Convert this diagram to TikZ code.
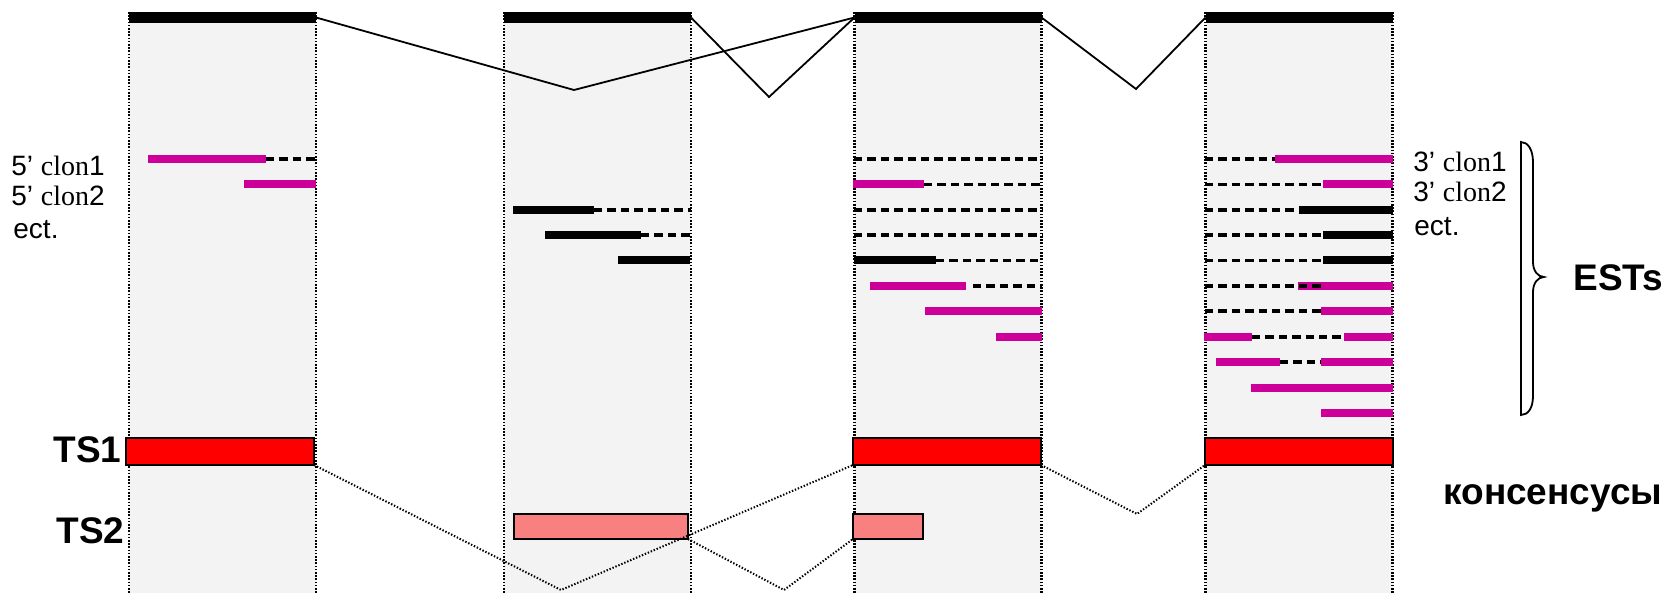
\documentclass[tikz,border=0pt]{standalone}
\usepackage{fontspec}
\setmainfont{Liberation Sans}
\newfontfamily\timesfont{Liberation Serif}
\usetikzlibrary{positioning}
\definecolor{colgray}{HTML}{F3F3F3}
\definecolor{estmag}{HTML}{CC0099}
\definecolor{tsred}{HTML}{FF0000}
\definecolor{tspink}{HTML}{F88080}

\tikzset{
  column/.style={rectangle, fill=colgray, inner sep=0pt, outer sep=0pt, minimum width=93.5pt, minimum height=293pt},
  edge/.style={line width=1.1pt, dash pattern=on 0.8pt off 0.8pt},
  exon/.style={rectangle, fill=black, inner sep=0pt, outer sep=0pt, minimum width=93.5pt, minimum height=5.5pt},
  intron/.style={line width=0.9pt},
  splice/.style={line width=1pt, dash pattern=on 0.7pt off 0.9pt},
  est/.style={line width=4pt, draw=estmag},
  estblk/.style={line width=4pt, draw=black},
  gap/.style={line width=1.6pt, dash pattern=on 4.2pt off 2.5pt},
  tsbox/.style={rectangle, draw, line width=0.8pt, inner sep=0pt, outer sep=0pt, minimum height=13.5pt},
  lbl/.style={inner sep=0pt, anchor=base west, font=\fontsize{14}{16}\selectfont},
  biglbl/.style={inner sep=0pt, anchor=base west, font=\fontsize{18.5}{22}\selectfont\bfseries}
}

\begin{document}
\begin{tikzpicture}[x=0.5pt, y=-0.5pt]
    \useasboundingbox (0,0) rectangle (1678,593);

    % exon columns
    \node[column] (col1) at (222.5,305) {};
    \node[column] (col2) at (597.5,305) {};
    \node[column] (col3) at (948,305) {};
    \node[column] (col4) at (1299,305) {};
    \draw[edge] (col1.north west) -- (col1.south west) (col1.north east) -- (col1.south east);
    \draw[edge] (col2.north west) -- (col2.south west) (col2.north east) -- (col2.south east);
    \draw[edge] (col3.north west) -- (col3.south west) (col3.north east) -- (col3.south east);
    \draw[edge] (col4.north west) -- (col4.south west) (col4.north east) -- (col4.south east);

    % genomic exons and introns
    \node[exon] (ex1) at (222.5,17.5) {};
    \node[exon] (ex2) at (597.5,17.5) {};
    \node[exon] (ex3) at (948,17.5) {};
    \node[exon] (ex4) at (1299,17.5) {};
    \coordinate (v1) at (574,90);
    \coordinate (v2) at (769,97);
    \coordinate (v3) at (1136,89);
    \draw[intron] (ex1.east) -- (v1) -- (ex3.west);
    \draw[intron] (ex2.east) -- (v2) -- (ex3.west);
    \draw[intron] (ex3.east) -- (v3) -- (ex4.west);

    % ESTs, exon 1
    \draw[est] (148,159) -- (266,159);
    \draw[gap] (266,159) -- (316,159);
    \draw[est] (244,184.5) -- (316,184.5);

    % ESTs, exon 2
    \draw[estblk] (513,210) -- (594,210);
    \draw[gap] (594,210) -- (691,210);
    \draw[estblk] (545,235) -- (641,235);
    \draw[gap] (641,235) -- (691,235);
    \draw[estblk] (618,260.5) -- (690,260.5);

    % ESTs, exon 3
    \draw[gap] (854,159) -- (1042,159);
    \draw[est] (853,184.5) -- (924,184.5);
    \draw[gap] (924,184.5) -- (1042,184.5);
    \draw[gap] (854,210) -- (1042,210);
    \draw[gap] (854,235) -- (1042,235);
    \draw[estblk] (854,260.5) -- (936,260.5);
    \draw[gap] (936,260.5) -- (1042,260.5);
    \draw[est] (870,286) -- (966,286);
    \draw[gap] (973,286) -- (1042,286);
    \draw[est] (925,311) -- (1042,311);
    \draw[est] (996,337) -- (1042,337);

    % ESTs, exon 4
    \draw[gap] (1205,159) -- (1275,159);
    \draw[est] (1275,159) -- (1393,159);
    \draw[gap] (1205,184.5) -- (1323,184.5);
    \draw[est] (1323,184.5) -- (1393,184.5);
    \draw[gap] (1205,210) -- (1299,210);
    \draw[estblk] (1299,210) -- (1393,210);
    \draw[gap] (1205,235) -- (1323,235);
    \draw[estblk] (1323,235) -- (1393,235);
    \draw[gap] (1205,260.5) -- (1323,260.5);
    \draw[estblk] (1323,260.5) -- (1393,260.5);
    \draw[est] (1298,286) -- (1393,286);
    \draw[gap] (1205,286) -- (1321,286);
    \draw[gap] (1205,311) -- (1321,311);
    \draw[est] (1321,311) -- (1393,311);
    \draw[est] (1204,337) -- (1252,337);
    \draw[gap] (1252,337) -- (1344,337);
    \draw[est] (1344,337) -- (1393,337);
    \draw[est] (1216,362) -- (1280,362);
    \draw[gap] (1280,362) -- (1321,362);
    \draw[est] (1321,362) -- (1393,362);
    \draw[est] (1251,388) -- (1393,388);
    \draw[est] (1321,413) -- (1393,413);

    % consensus transcripts
    \node[tsbox, fill=tsred, minimum width=94pt] (ts1a) at (220,451.5) {};
    \node[tsbox, fill=tsred, minimum width=94pt] (ts1b) at (947,451.5) {};
    \node[tsbox, fill=tsred, minimum width=94pt] (ts1c) at (1299,451.5) {};
    \node[tsbox, fill=tspink, minimum width=87pt, minimum height=12.5pt] (ts2a) at (601,526.5) {};
    \node[tsbox, fill=tspink, minimum width=35pt, minimum height=12.5pt] (ts2b) at (888,526.5) {};
    \coordinate (b1) at (561,590);
    \coordinate (b2) at (784,590);
    \coordinate (b3) at (1137,514);
    \draw[splice] (ts1a.south east) -- (b1) -- (ts1b.south west);
    \draw[splice] (ts2a.south east) -- (b2) -- (ts2b.south west);
    \draw[splice] (ts1b.south east) -- (b3) -- (ts1c.south west);

    % EST brace
    \draw[line width=0.9pt] (1521,142) .. controls (1528,142) and (1533,150) .. (1533,162) -- (1533,262)
        .. controls (1533,271) and (1538,277) .. (1544,277) .. controls (1538,277) and (1533,283) .. (1533,292)
        -- (1533,396) .. controls (1533,408) and (1528,415) .. (1521,415) -- cycle;

    % labels
    \node[lbl] (l5a) at (11,176) {5’ {\timesfont clon}1};
    \node[lbl] (l5b) at (11,206) {5’ {\timesfont clon}2};
    \node[lbl] (l5c) at (13,239) {ect.};
    \node[lbl] (l3a) at (1413,172) {3’ {\timesfont clon}1};
    \node[lbl] (l3b) at (1413,202) {3’ {\timesfont clon}2};
    \node[lbl] (l3c) at (1414,236) {ect.};
    \node[biglbl] (ests) at (1573,291) {ESTs};
    \node[biglbl] (cons) at (1443,505) {консенсусы};
    \node[biglbl] (ts1l) at (53,463) {TS1};
    \node[biglbl] (ts2l) at (56,544) {TS2};
\end{tikzpicture}
\end{document}
